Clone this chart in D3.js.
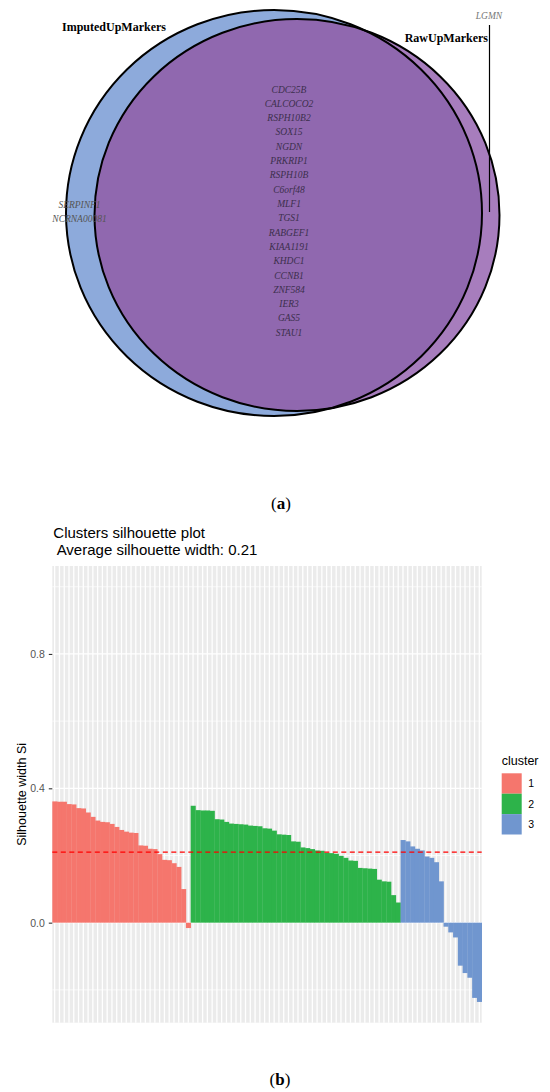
<!DOCTYPE html>
<html>
<head>
<meta charset="utf-8">
<script src="https://cdn.jsdelivr.net/npm/d3@7"></script>
<style>
  body { margin: 0; background: #fff; }
  svg { display: block; }
</style>
</head>
<body>
<div id="chart"></div>
<script>
// ---- panel (a): Venn data ----
const vennSets = ["ImputedUpMarkers", "RawUpMarkers"];
const imputedOnly = ["SERPINF1", "NCRNA00081"];
const rawOnly = ["LGMN"];
const sharedGenes = [
  "CDC25B", "CALCOCO2", "RSPH10B2", "SOX15", "NGDN", "PRKRIP1", "RSPH10B",
  "C6orf48", "MLF1", "TGS1", "RABGEF1", "KIAA1191", "KHDC1", "CCNB1",
  "ZNF584", "IER3", "GAS5", "STAU1"
];
const panelLabels = ["a", "b"];

// ---- panel (b): silhouette widths per cluster (sorted within cluster) ----
const clusterNames = ["1", "2", "3"];
const cluster1 = [0.361, 0.360, 0.360, 0.353, 0.352, 0.341, 0.340, 0.328, 0.315,
  0.304, 0.300, 0.299, 0.294, 0.285, 0.276, 0.271, 0.268, 0.267, 0.230, 0.229,
  0.220, 0.219, 0.204, 0.187, 0.186, 0.177, 0.166, 0.100, -0.016];
const cluster2 = [0.348, 0.335, 0.334, 0.334, 0.333, 0.308, 0.307, 0.300, 0.295,
  0.294, 0.293, 0.292, 0.289, 0.288, 0.287, 0.281, 0.280, 0.274, 0.263, 0.262,
  0.261, 0.242, 0.241, 0.224, 0.222, 0.219, 0.215, 0.214, 0.208, 0.207, 0.205,
  0.199, 0.193, 0.185, 0.184, 0.163, 0.162, 0.161, 0.160, 0.128, 0.123, 0.122,
  0.082, 0.060];
const cluster3 = [0.246, 0.242, 0.227, 0.220, 0.215, 0.197, 0.193, 0.180, 0.123,
  -0.012, -0.029, -0.044, -0.128, -0.150, -0.164, -0.224, -0.236];
const avgWidth = 0.21;
const yTicks = [0.0, 0.4, 0.8];
const yMinor = [-0.2, 0.2, 0.6, 1.0];

const W = 550, H = 1092;
const svg = d3.select("#chart").append("svg")
  .attr("width", W).attr("height", H);

const serif = "'Liberation Serif', 'Times New Roman', serif";
const sans = "'Liberation Sans', Arial, sans-serif";

function panelLabel(letter, px, py) {
  const t = svg.append("text")
    .attr("x", px).attr("y", py)
    .attr("text-anchor", "middle")
    .style("font-family", serif)
    .style("font-size", "17px");
  t.append("tspan").text("(");
  t.append("tspan").style("font-weight", "bold").text(letter);
  t.append("tspan").text(")");
}

// ================= (a) Venn =================
const blueE = { cx: 274, cy: 213, rx: 208, ry: 203 };
const purpE = { cx: 297, cy: 215, rx: 202.5, ry: 196 };

const defs = svg.append("defs");
defs.append("clipPath").attr("id", "clipBlue")
  .append("ellipse")
  .attr("cx", blueE.cx).attr("cy", blueE.cy)
  .attr("rx", blueE.rx).attr("ry", blueE.ry);

const venn = svg.append("g").attr("class", "venn");

venn.append("ellipse")
  .attr("cx", blueE.cx).attr("cy", blueE.cy)
  .attr("rx", blueE.rx).attr("ry", blueE.ry)
  .attr("fill", "#8DAADB");

venn.append("ellipse")
  .attr("cx", purpE.cx).attr("cy", purpE.cy)
  .attr("rx", purpE.rx).attr("ry", purpE.ry)
  .attr("fill", "#A77DBD");

// intersection
venn.append("ellipse")
  .attr("clip-path", "url(#clipBlue)")
  .attr("cx", purpE.cx).attr("cy", purpE.cy)
  .attr("rx", purpE.rx).attr("ry", purpE.ry)
  .attr("fill", "#9068AF");

[blueE, purpE].forEach((e) => {
  venn.append("ellipse")
    .attr("cx", e.cx).attr("cy", e.cy)
    .attr("rx", e.rx).attr("ry", e.ry)
    .attr("fill", "none")
    .attr("stroke", "#000")
    .attr("stroke-width", 2);
});

// set labels
venn.append("text")
  .attr("x", 62).attr("y", 31)
  .style("font-family", serif)
  .style("font-weight", "bold")
  .style("font-size", "12px")
  .text(vennSets[0]);

venn.append("text")
  .attr("x", 488).attr("y", 42)
  .attr("text-anchor", "end")
  .style("font-family", serif)
  .style("font-weight", "bold")
  .style("font-size", "12px")
  .text(vennSets[1]);

// shared genes
const yGene = d3.scalePoint()
  .domain(sharedGenes)
  .range([92.5, 335.8]);

venn.selectAll(".gene-shared")
  .data(sharedGenes)
  .enter()
  .append("text")
  .attr("class", "gene-shared")
  .attr("x", 289)
  .attr("y", (d) => yGene(d))
  .attr("text-anchor", "middle")
  .style("font-family", serif)
  .style("font-style", "italic")
  .style("font-size", "9.5px")
  .style("fill", "#3c2f4d")
  .text((d) => d);

// imputed only genes
venn.selectAll(".gene-imp")
  .data(imputedOnly)
  .enter()
  .append("text")
  .attr("class", "gene-imp")
  .attr("x", 79.5)
  .attr("y", (d, i) => 207.5 + i * 14.3)
  .attr("text-anchor", "middle")
  .style("font-family", serif)
  .style("font-style", "italic")
  .style("font-size", "9.5px")
  .style("fill", "#555")
  .text((d) => d);

// raw only gene with leader line
venn.append("line")
  .attr("x1", 489.5).attr("x2", 489.5)
  .attr("y1", 25).attr("y2", 212)
  .attr("stroke", "#000")
  .attr("stroke-width", 1.2);

venn.selectAll(".gene-raw")
  .data(rawOnly)
  .enter()
  .append("text")
  .attr("class", "gene-raw")
  .attr("x", 489)
  .attr("y", 18.5)
  .attr("text-anchor", "middle")
  .style("font-family", serif)
  .style("font-style", "italic")
  .style("font-size", "9.5px")
  .style("fill", "#777")
  .text((d) => d);

panelLabel(panelLabels[0], 281, 509);

// ================= (b) silhouette =================
const bars = [];
[cluster1, cluster2, cluster3].forEach((arr, ci) => {
  arr.forEach((v) => bars.push({ idx: bars.length, cluster: clusterNames[ci], value: v }));
});

const panel = { left: 52.3, right: 481.7, top: 566, bottom: 1022.7 };

const x = d3.scaleBand()
  .domain(bars.map((d) => d.idx))
  .range([panel.left, panel.right])
  .padding(0);

const yMin = d3.min(bars, (d) => d.value);
const yMax = 1;
const yPad = (yMax - yMin) * 0.05;
const y = d3.scaleLinear()
  .domain([yMin - yPad, yMax + yPad])
  .range([panel.bottom, panel.top]);

const color = d3.scaleOrdinal()
  .domain(clusterNames)
  .range(["#F5766D", "#2DB34A", "#7096CF"]);

const sil = svg.append("g").attr("class", "silhouette");

sil.append("rect")
  .attr("x", panel.left).attr("y", panel.top)
  .attr("width", panel.right - panel.left)
  .attr("height", panel.bottom - panel.top)
  .attr("fill", "#EBEBEB");

// minor horizontal grid
sil.selectAll(".hminor")
  .data(yMinor)
  .enter()
  .append("line")
  .attr("x1", panel.left).attr("x2", panel.right)
  .attr("y1", (d) => y(d)).attr("y2", (d) => y(d))
  .attr("stroke", "#fff")
  .attr("stroke-width", 0.7);

// major horizontal grid
sil.selectAll(".hmajor")
  .data(yTicks)
  .enter()
  .append("line")
  .attr("x1", panel.left).attr("x2", panel.right)
  .attr("y1", (d) => y(d)).attr("y2", (d) => y(d))
  .attr("stroke", "#fff")
  .attr("stroke-width", 1.3);

// vertical grid at each observation
sil.selectAll(".vgrid")
  .data(bars)
  .enter()
  .append("line")
  .attr("x1", (d) => x(d.idx) + x.bandwidth() / 2)
  .attr("x2", (d) => x(d.idx) + x.bandwidth() / 2)
  .attr("y1", panel.top).attr("y2", panel.bottom)
  .attr("stroke", "#fff")
  .attr("stroke-width", 1.3);

// bars
sil.selectAll(".bar")
  .data(bars)
  .enter()
  .append("rect")
  .attr("class", "bar")
  .attr("x", (d) => x(d.idx))
  .attr("width", x.bandwidth() + 0.3)
  .attr("y", (d) => y(Math.max(0, d.value)))
  .attr("height", (d) => Math.abs(y(d.value) - y(0)))
  .attr("fill", (d) => color(d.cluster));

// average line
sil.append("line")
  .attr("x1", panel.left).attr("x2", panel.right)
  .attr("y1", y(avgWidth)).attr("y2", y(avgWidth))
  .attr("stroke", "#FF0000")
  .attr("stroke-width", 1.3)
  .attr("stroke-dasharray", "5,3.5");

// y axis
const yAxis = sil.append("g")
  .attr("transform", `translate(${panel.left},0)`)
  .call(d3.axisLeft(y).tickValues(yTicks).tickFormat(d3.format(".1f")).tickSize(3.5).tickPadding(4));
yAxis.select(".domain").remove();
yAxis.selectAll("line").attr("stroke", "#333").attr("stroke-width", 1.1);
yAxis.selectAll("text")
  .style("font-family", sans)
  .style("font-size", "10.5px")
  .style("fill", "#555");

sil.append("text")
  .attr("transform", `translate(26,${(panel.top + panel.bottom) / 2}) rotate(-90)`)
  .attr("text-anchor", "middle")
  .style("font-family", sans)
  .style("font-size", "12.5px")
  .style("fill", "#000")
  .text("Silhouette width Si");

// titles
sil.append("text")
  .attr("x", 53.3).attr("y", 538)
  .style("font-family", sans)
  .style("font-size", "15px")
  .text("Clusters silhouette plot");
sil.append("text")
  .attr("x", 53.3).attr("y", 555)
  .style("font-family", sans)
  .style("font-size", "15px")
  .style("white-space", "pre")
  .text(" Average silhouette width: " + avgWidth.toFixed(2));

// legend
const legend = sil.append("g").attr("transform", "translate(501.7,0)");
legend.append("text")
  .attr("x", 0).attr("y", 765)
  .style("font-family", sans)
  .style("font-size", "12.5px")
  .text("cluster");
const keyH = 20.4;
legend.selectAll(".key")
  .data(clusterNames)
  .enter()
  .append("rect")
  .attr("x", 0)
  .attr("y", (d, i) => 773.3 + i * keyH)
  .attr("width", 20)
  .attr("height", keyH)
  .attr("fill", (d) => color(d));
legend.selectAll(".klab")
  .data(clusterNames)
  .enter()
  .append("text")
  .attr("x", 26.5)
  .attr("y", (d, i) => 773.3 + i * keyH + keyH / 2)
  .attr("dy", "0.35em")
  .style("font-family", sans)
  .style("font-size", "10.5px")
  .text((d) => d);

panelLabel(panelLabels[1], 280, 1085);
</script>
</body>
</html>
